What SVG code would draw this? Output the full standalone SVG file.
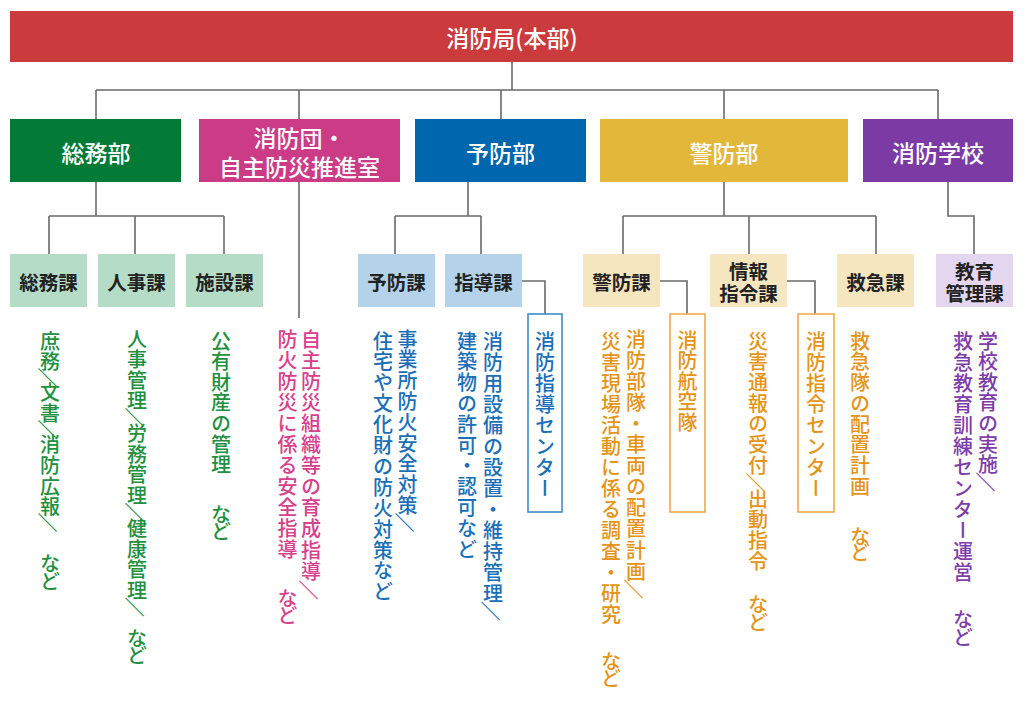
<svg xmlns="http://www.w3.org/2000/svg" width="1024" height="708" viewBox="0 0 1024 708">
<style>
.t{font-family:"Noto Sans CJK JP","Noto Sans",sans-serif;}
.top{font-size:23px;fill:#fff;font-weight:500;}
.dept{font-size:23px;fill:#fff;font-weight:500;}
.sec{font-size:19.5px;fill:#222;font-weight:700;}
.v{font-family:"Noto Sans CJK JP","Noto Sans",sans-serif;font-size:20px;font-weight:500;writing-mode:vertical-rl;}
.g{fill:#22903f;}
.m{fill:#d8408c;}
.b{fill:#1a6fb7;}
.o{fill:#e59418;}
.p{fill:#7e3ea8;}
.sw{text-orientation:sideways;font-weight:700;}
.ln{fill:none;stroke:#6a6a6a;stroke-width:1.6;}
.bb{fill:#fff;stroke:#3f8ccb;stroke-width:1.6;}
.ob{fill:#fff;stroke:#efaa47;stroke-width:1.6;}
</style>
<rect width="1024" height="708" fill="#fff"/>
<g id="connectors" class="ln">
<path d="M512 62V90M96 90H938M96 90V119M299 90V119M501 90V119M724 90V119M938 90V119"/>
<path d="M96 182V216M49 216H224M49 216V254M135 216V254M224 216V254"/>
<path d="M299 182V318"/>
<path d="M468 182V216M395 216H481M395 216V254M481 216V254"/>
<path d="M522 281H545V314"/>
<path d="M724 182V216M623 216H876M623 216V254M749 216V254M876 216V254"/>
<path d="M660 281H687V314"/>
<path d="M787 281H815V314"/>
<path d="M948 182V216H974V254"/>
</g>
<g id="hq">
<rect x="10" y="11" width="1003" height="51" fill="#cb3a3c"/>
<text class="t top" x="512" y="37" text-anchor="middle" dominant-baseline="central">消防局(本部)</text>
</g>
<g id="soumubu">
<rect x="10" y="119" width="171" height="63" fill="#037b36"/>
<text class="t dept" x="96" y="152" text-anchor="middle" dominant-baseline="central">総務部</text>
</g>
<g id="shouboudan">
<rect x="199" y="119" width="201" height="63" fill="#cc3b86"/>
<text class="t dept" x="299.5" y="137" text-anchor="middle" dominant-baseline="central">消防団・</text>
<text class="t dept" x="299.5" y="166" text-anchor="middle" dominant-baseline="central">自主防災推進室</text>
</g>
<g id="yobobu">
<rect x="415" y="119" width="171" height="63" fill="#0066ad"/>
<text class="t dept" x="500.5" y="152" text-anchor="middle" dominant-baseline="central">予防部</text>
</g>
<g id="keibobu">
<rect x="600" y="119" width="248" height="63" fill="#e2b73a"/>
<text class="t dept" x="724" y="152" text-anchor="middle" dominant-baseline="central">警防部</text>
</g>
<g id="gakkou">
<rect x="863" y="119" width="150" height="63" fill="#7c3ba4"/>
<text class="t dept" x="938" y="152" text-anchor="middle" dominant-baseline="central">消防学校</text>
</g>
<g id="soumuka">
<rect x="10" y="254" width="77" height="53" fill="#b4dcc6"/>
<text class="t sec" x="48.5" y="281" text-anchor="middle" dominant-baseline="central">総務課</text>
<text class="v g" x="50 50 48 50 50 48 50 50 50 50 48 50 50 50" y="331 351.6 367.6 382.9 403.5 419.5 434.8 455.4 476 496.6 512.6 528 553 571">庶務<tspan class="sw">／</tspan>文書<tspan class="sw">／</tspan>消防広報<tspan class="sw">／</tspan>　など</text>
</g>
<g id="jinjika">
<rect x="98" y="254" width="77" height="53" fill="#b4dcc6"/>
<text class="t sec" x="136.5" y="281" text-anchor="middle" dominant-baseline="central">人事課</text>
<text class="v g" x="137 137 137 137 135 137 137 137 137 135 137 137 137 137 135 137 137 137" y="329 349.6 370.2 390.8 407.6 423.7 444.3 464.9 485.5 502.3 518.4 539 559.6 580.2 597 613 628 645">人事管理<tspan class="sw">／</tspan>労務管理<tspan class="sw">／</tspan>健康管理<tspan class="sw">／</tspan>　など</text>
</g>
<g id="shisetsuka">
<rect x="186" y="254" width="77" height="53" fill="#b4dcc6"/>
<text class="t sec" x="224.5" y="281" text-anchor="middle" dominant-baseline="central">施設課</text>
<text class="v g" x="221" y="331 351.6 372.2 392.8 413.4 434 454.6 475.2 504 521">公有財産の管理　など</text>
</g>
<g id="jishubousai">
<text class="v m" x="311 311 311 311 311 311 311 311 311 311 311 311 309" y="329 350.1 371.2 392.3 413.4 434.5 455.6 476.7 497.8 518.9 540 561.1 580">自主防災組織等の育成指導<tspan class="sw">／</tspan></text>
<text class="v m" x="287.5" y="329 350 371 392 413 434 455 476 497 518 539 560 588 605">防火防災に係る安全指導　など</text>
</g>
<g id="yoboka">
<rect x="358" y="254" width="77" height="53" fill="#b4d3ea"/>
<text class="t sec" x="396.5" y="281" text-anchor="middle" dominant-baseline="central">予防課</text>
<text class="v b" x="407.5 407.5 407.5 407.5 407.5 407.5 407.5 407.5 407.5 405.5" y="329 349.8 370.6 391.4 412.2 433 453.8 474.6 495.4 512.5">事業所防火安全対策<tspan class="sw">／</tspan></text>
<text class="v b" x="383" y="331 351.9 372.8 393.7 414.6 435.5 456.4 477.3 498.2 519.1 540 560.9 581.8">住宅や文化財の防火対策など</text>
</g>
<g id="shidouka">
<rect x="445" y="254" width="77" height="53" fill="#b4d3ea"/>
<text class="t sec" x="483.5" y="281" text-anchor="middle" dominant-baseline="central">指導課</text>
<text class="v b" x="493 493 493 493 493 493 493 493 493 493 493 493 493 491" y="331 352 373 394 415 436 457 478 499 520 541 562 583 601">消防用設備の設置・維持管理<tspan class="sw">／</tspan></text>
<text class="v b" x="467" y="331 351.8 372.6 393.4 414.2 435 455.8 476.6 497.4 518.2 539">建築物の許可・認可など</text>
</g>
<g id="shidoucenter">
<rect x="528" y="314" width="34" height="198" class="bb"/>
<text class="v b" x="545" y="331 352 373 394 415 436 457 478">消防指導センター</text>
</g>
<g id="keiboka">
<rect x="583" y="254" width="77" height="53" fill="#f6e6c0"/>
<text class="t sec" x="621.5" y="281" text-anchor="middle" dominant-baseline="central">警防課</text>
<text class="v o" x="636 636 636 636 636 636 636 636 636 636 636 636 634" y="329 350.1 371.2 392.3 413.4 434.5 455.6 476.7 497.8 518.9 540 561.1 579">消防部隊・車両の配置計画<tspan class="sw">／</tspan></text>
<text class="v o" x="611" y="331 352 373 394 415 436 457 478 499 520 541 562 583 604 625 651 668">災害現場活動に係る調査・研究　など</text>
</g>
<g id="koukuutai">
<rect x="670" y="314" width="35" height="198" class="ob"/>
<text class="v o" x="687.5" y="330 350.6 371.2 391.8 412.4">消防航空隊</text>
</g>
<g id="shireika">
<rect x="710" y="254" width="77" height="53" fill="#f6e6c0"/>
<text class="t sec" x="748.5" y="270" text-anchor="middle" dominant-baseline="central">情報</text>
<text class="t sec" x="748.5" y="292" text-anchor="middle" dominant-baseline="central">指令課</text>
<text class="v o" x="758 758 758 758 758 758 758 756 758 758 758 758 758 758 758" y="331 351.7 372.4 393.1 413.8 434.5 455.2 472.5 489.2 509.9 530.6 551.3 572 594 612">災害通報の受付<tspan class="sw">／</tspan>出動指令　など</text>
</g>
<g id="shireicenter">
<rect x="798" y="314" width="36" height="198" class="ob"/>
<text class="v o" x="816" y="331 352 373 394 415 436 457 478">消防指令センター</text>
</g>
<g id="kyuukyuuka">
<rect x="837" y="254" width="77" height="53" fill="#f6e6c0"/>
<text class="t sec" x="875.5" y="281" text-anchor="middle" dominant-baseline="central">救急課</text>
<text class="v o" x="860" y="331 351.75 372.5 393.25 414 434.75 455.5 476.25 497 526 542">救急隊の配置計画　など</text>
</g>
<g id="kyouikuka">
<rect x="936" y="254" width="77" height="53" fill="#e4d6ee"/>
<text class="t sec" x="974.5" y="270" text-anchor="middle" dominant-baseline="central">教育</text>
<text class="t sec" x="974.5" y="292" text-anchor="middle" dominant-baseline="central">管理課</text>
<text class="v p" x="988 988 988 988 988 988 988 986" y="331 351.6 372.2 392.8 413.4 434 454.6 472">学校教育の実施<tspan class="sw">／</tspan></text>
<text class="v p" x="963" y="331 352 373 394 415 436 457 478 499 520 541 562 583 609 627">救急教育訓練センター運営　など</text>
</g>
</svg>
